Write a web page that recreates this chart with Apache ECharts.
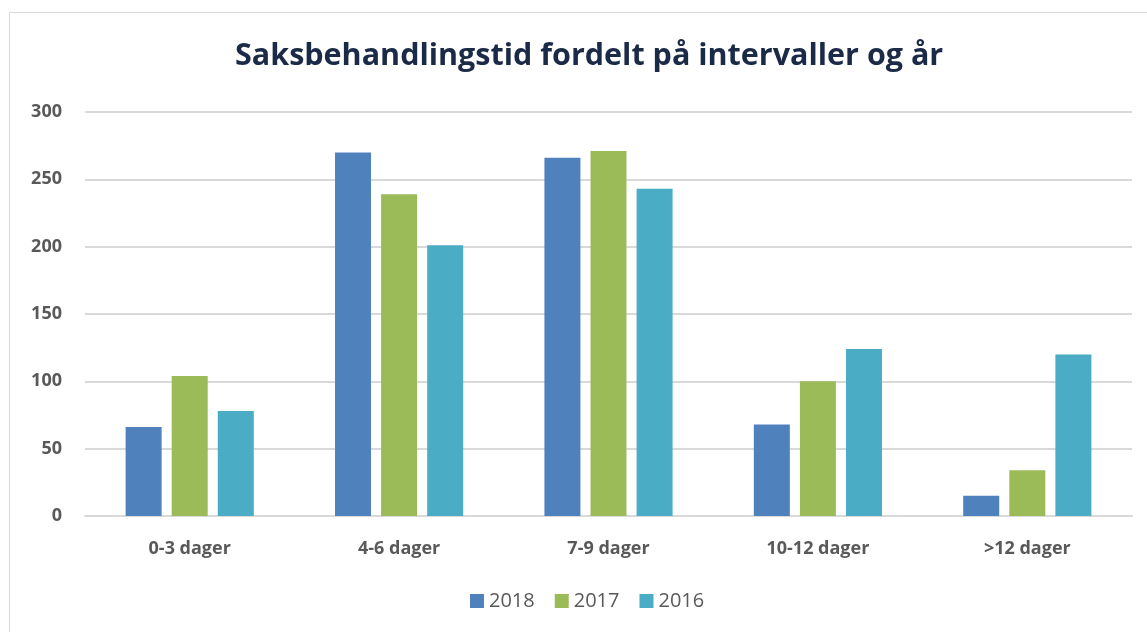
<!DOCTYPE html>
<html>
<head>
<meta charset="utf-8">
<script src="https://cdn.jsdelivr.net/npm/echarts@6/dist/echarts.min.js"></script>
<style>
  html, body { margin: 0; padding: 0; background: #fff; }
  #main { width: 1147px; height: 632px; }
</style>
</head>
<body>
<div id="main"></div>
<script>
var categories = ['0-3 dager', '4-6 dager', '7-9 dager', '10-12 dager', '>12 dager'];
var years = ['2018', '2017', '2016'];
var values2018 = [66, 270, 266, 68, 15];
var values2017 = [104, 239, 271, 100, 34];
var values2016 = [78, 201, 243, 124, 120];
var colors = ['#4F81BD', '#9BBB59', '#4BACC6'];

var chart = echarts.init(document.getElementById('main'));

function bar(name, data, color) {
  return {
    name: name,
    type: 'bar',
    data: data,
    barWidth: 36,
    barGap: '28%',
    itemStyle: { color: color }
  };
}

var option = {
  animation: false,
  graphic: [{
    type: 'rect',
    shape: { x: 9.5, y: 12.5, width: 1160, height: 640 },
    style: { fill: 'none', stroke: '#D9D9D9', lineWidth: 1 }
  }],
  title: {
    text: 'Saksbehandlingstid fordelt på intervaller og år',
    left: 230,
    top: 36,
    textStyle: {
      fontFamily: 'Open Sans',
      fontWeight: 'bold',
      fontSize: 30.5,
      color: '#1B2A47'
    }
  },
  legend: {
    data: years,
    bottom: 16,
    left: 465,
    itemWidth: 14,
    itemHeight: 14,
    itemGap: 20,
    icon: 'rect',
    textStyle: { fontFamily: 'Open Sans', fontSize: 20, color: '#595959' }
  },
  grid: { left: 85, right: 15, top: 112, bottom: 116 },
  xAxis: {
    type: 'category',
    data: categories,
    axisTick: { show: false },
    axisLine: { lineStyle: { color: '#D9D9D9', width: 2 } },
    axisLabel: {
      margin: 24,
      fontFamily: 'Open Sans',
      fontWeight: 'bold',
      fontSize: 18,
      color: '#595959'
    }
  },
  yAxis: {
    type: 'value',
    min: 0,
    max: 300,
    interval: 50,
    axisLine: { show: false },
    axisTick: { show: false },
    splitLine: { lineStyle: { color: '#D9D9D9', width: 2 } },
    axisLabel: {
      margin: 23,
      fontFamily: 'Open Sans',
      fontWeight: 'bold',
      fontSize: 18,
      color: '#595959'
    }
  },
  series: [
    bar(years[0], values2018, colors[0]),
    bar(years[1], values2017, colors[1]),
    bar(years[2], values2016, colors[2])
  ]
};

chart.setOption(option);
</script>
</body>
</html>
